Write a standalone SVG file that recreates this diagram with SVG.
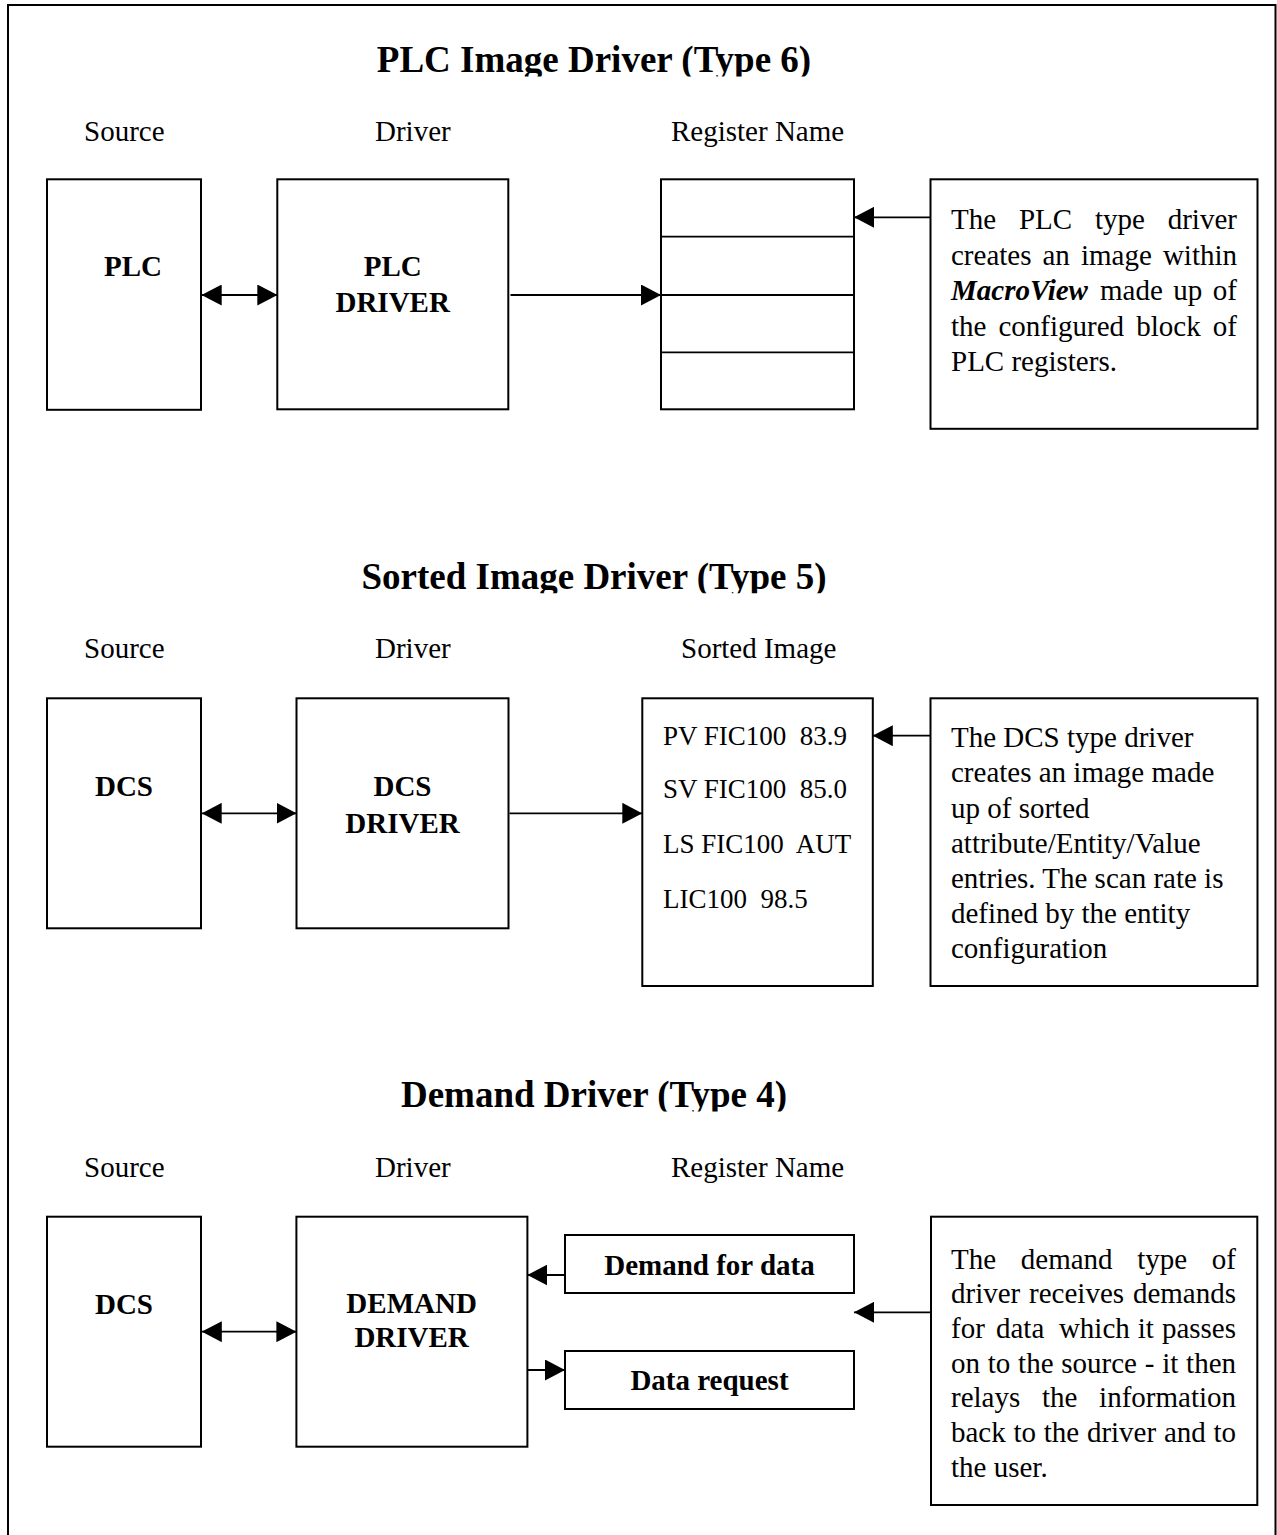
<svg xmlns="http://www.w3.org/2000/svg" width="1277" height="1535" viewBox="0 0 1277 1535">
  <style>
    .t { font-family: "Liberation Serif", "Times New Roman", serif; font-size: 29px; fill: #000; }
    .b { font-weight: bold; }
    .c { text-anchor: middle; }
    .title { font-family: "Liberation Serif", "Times New Roman", serif; font-size: 37px; font-weight: bold; fill: #000; text-anchor: middle; }
    .s { font-size: 27px; }
    .box { fill: #fff; stroke: #000; stroke-width: 2; }
    .ln { fill: none; stroke: #000; stroke-width: 1.8; }
    .arr { marker-end: url(#ah); }
    .bi { marker-start: url(#ah); marker-end: url(#ah); }
  </style>
  <defs>
    <marker id="ah" viewBox="0 0 20 21" refX="20" refY="10.5" markerWidth="20" markerHeight="21" markerUnits="userSpaceOnUse" orient="auto-start-reverse">
      <path d="M0,0 L20,10.5 L0,21 z" fill="#000"/>
    </marker>
    <clipPath id="clipT1"><rect x="0" y="0" width="1277" height="76.5"/></clipPath>
    <clipPath id="clipT2"><rect x="0" y="520" width="1277" height="73.3"/></clipPath>
    <clipPath id="clipT3"><rect x="0" y="1040" width="1277" height="71.5"/></clipPath>
  </defs>

  <rect x="0" y="0" width="1277" height="1535" fill="#fff"/>
  <!-- page frame, open at the bottom -->
  <rect x="8" y="5" width="1267.5" height="1560" fill="none" stroke="#000" stroke-width="2"/>

  <!-- ===== PLC Image Driver (Type 6) ===== -->
  <g id="sec-plc-heading">
    <text class="title" x="594" y="72" clip-path="url(#clipT1)">PLC Image Driver (Type 6)</text>
    <text class="t" x="84" y="140.7">Source</text>
    <text class="t" x="375" y="140.7">Driver</text>
    <text class="t" x="671" y="140.7">Register Name</text>
  </g>
  <g id="plc-source">
    <rect class="box" x="47" y="179.3" width="154" height="230.5"/>
    <text class="t b" x="104" y="276">PLC</text>
  </g>
  <g id="plc-driver">
    <rect class="box" x="277.3" y="179.3" width="231" height="230"/>
    <text class="t b c" x="392.7" y="276">PLC</text>
    <text class="t b c" x="392.7" y="311.7">DRIVER</text>
  </g>
  <g id="plc-registers">
    <rect class="box" x="661" y="179.3" width="193" height="230"/>
    <path class="ln" d="M661,236.7 H854 M661,295 H854 M661,352.3 H854" stroke-width="2"/>
  </g>
  <g id="plc-note">
    <rect class="box" x="930.5" y="179.3" width="327" height="249.5"/>
    <text class="t" y="229"><tspan x="951">The</tspan><tspan x="1018.9">PLC</tspan><tspan x="1094.9">type</tspan><tspan x="1167.7">driver</tspan></text>
    <text class="t" y="264.5"><tspan x="951">creates</tspan><tspan x="1042.5">an</tspan><tspan x="1080.9">image</tspan><tspan x="1162.9">within</tspan></text>
    <text class="t" y="300"><tspan x="951" font-weight="bold" font-style="italic">MacroView</tspan><tspan x="1100">made</tspan><tspan x="1173.3">up</tspan><tspan x="1212.8">of</tspan></text>
    <text class="t" y="335.5"><tspan x="951">the</tspan><tspan x="998.5">configured</tspan><tspan x="1136.3">block</tspan><tspan x="1212.8">of</tspan></text>
    <text class="t" x="951" y="371">PLC registers.</text>
  </g>

  <!-- ===== Sorted Image Driver (Type 5) ===== -->
  <g id="sec-sorted-heading">
    <text class="title" x="594" y="589.3" clip-path="url(#clipT2)">Sorted Image Driver (Type 5)</text>
    <text class="t" x="84" y="658.3">Source</text>
    <text class="t" x="375" y="658.3">Driver</text>
    <text class="t" x="681" y="658.3">Sorted Image</text>
  </g>
  <g id="sorted-source">
    <rect class="box" x="47" y="698.3" width="154" height="230"/>
    <text class="t b c" x="124" y="796">DCS</text>
  </g>
  <g id="sorted-driver">
    <rect class="box" x="296.5" y="698.3" width="212" height="230"/>
    <text class="t b c" x="402.5" y="796">DCS</text>
    <text class="t b c" x="402.5" y="832.7">DRIVER</text>
  </g>
  <g id="sorted-image">
    <rect class="box" x="642.3" y="698.3" width="230.5" height="287.7"/>
    <text class="t s" x="663" y="745" xml:space="preserve">PV FIC100  83.9</text>
    <text class="t s" x="663" y="798.3" xml:space="preserve">SV FIC100  85.0</text>
    <text class="t s" x="663" y="853.3" xml:space="preserve">LS FIC100  AUT</text>
    <text class="t s" x="663" y="908.3" xml:space="preserve">LIC100  98.5</text>
  </g>
  <g id="sorted-note">
    <rect class="box" x="930.5" y="698.3" width="327" height="287.7"/>
    <text class="t" x="951" y="747">The DCS type driver</text>
    <text class="t" x="951" y="782">creates an image made</text>
    <text class="t" x="951" y="817.5">up of sorted</text>
    <text class="t" x="951" y="853">attribute/Entity/Value</text>
    <text class="t" x="951" y="888">entries. The scan rate is</text>
    <text class="t" x="951" y="923">defined by the entity</text>
    <text class="t" x="951" y="958">configuration</text>
  </g>

  <!-- ===== Demand Driver (Type 4) ===== -->
  <g id="sec-demand-heading">
    <text class="title" x="594" y="1107" clip-path="url(#clipT3)">Demand Driver (Type 4)</text>
    <text class="t" x="84" y="1177.3">Source</text>
    <text class="t" x="375" y="1177.3">Driver</text>
    <text class="t" x="671" y="1177.3">Register Name</text>
  </g>
  <g id="demand-source">
    <rect class="box" x="47" y="1216.7" width="154" height="230"/>
    <text class="t b c" x="124" y="1314">DCS</text>
  </g>
  <g id="demand-driver">
    <rect class="box" x="296.4" y="1216.7" width="231" height="230"/>
    <text class="t b c" x="411.6" y="1312.7">DEMAND</text>
    <text class="t b c" x="411.6" y="1347.3">DRIVER</text>
  </g>
  <g id="demand-for-data">
    <rect class="box" x="565" y="1235" width="289" height="58"/>
    <text class="t b c" x="709.5" y="1274.5">Demand for data</text>
  </g>
  <g id="data-request">
    <rect class="box" x="565" y="1351" width="289" height="58"/>
    <text class="t b c" x="709.5" y="1390">Data request</text>
  </g>
  <g id="demand-note">
    <rect class="box" x="931" y="1216.7" width="326.3" height="288.3"/>
    <text class="t" y="1268.5"><tspan x="951">The</tspan><tspan x="1020.8">demand</tspan><tspan x="1137.2">type</tspan><tspan x="1211.8">of</tspan></text>
    <text class="t" y="1303.2"><tspan x="951">driver</tspan><tspan x="1029.1">receives</tspan><tspan x="1132.9">demands</tspan></text>
    <text class="t" y="1337.9"><tspan x="951">for</tspan><tspan x="996">data</tspan><tspan x="1058.9">which</tspan><tspan x="1137.8">it</tspan><tspan x="1161.9">passes</tspan></text>
    <text class="t" y="1372.6"><tspan x="951">on</tspan><tspan x="987.8">to</tspan><tspan x="1018.1">the</tspan><tspan x="1061.3">source</tspan><tspan x="1144.8">-</tspan><tspan x="1162.2">it</tspan><tspan x="1186.1">then</tspan></text>
    <text class="t" y="1407.3"><tspan x="951">relays</tspan><tspan x="1042">the</tspan><tspan x="1099.1">information</tspan></text>
    <text class="t" y="1442"><tspan x="951">back</tspan><tspan x="1013.5">to</tspan><tspan x="1043.8">the</tspan><tspan x="1086.9">driver</tspan><tspan x="1163.9">and</tspan><tspan x="1213.4">to</tspan></text>
    <text class="t" x="951" y="1476.7">the user.</text>
  </g>

  <!-- connectors -->
  <g id="connectors">
    <path class="ln bi" d="M201.7,295 H277.3"/>
    <path class="ln arr" d="M510.5,295 H661"/>
    <path class="ln arr" d="M930.5,217.3 H854"/>

    <path class="ln bi" d="M201.7,813.3 H296.5"/>
    <path class="ln arr" d="M509.5,813.3 H642.3"/>
    <path class="ln arr" d="M930.5,735.7 H872.8"/>

    <path class="ln bi" d="M201.8,1331.7 H296.4"/>
    <path class="ln arr" d="M565,1275 H527.4"/>
    <path class="ln arr" d="M527.4,1370 H565"/>
    <path class="ln arr" d="M931,1312.3 H854"/>
  </g>
</svg>
